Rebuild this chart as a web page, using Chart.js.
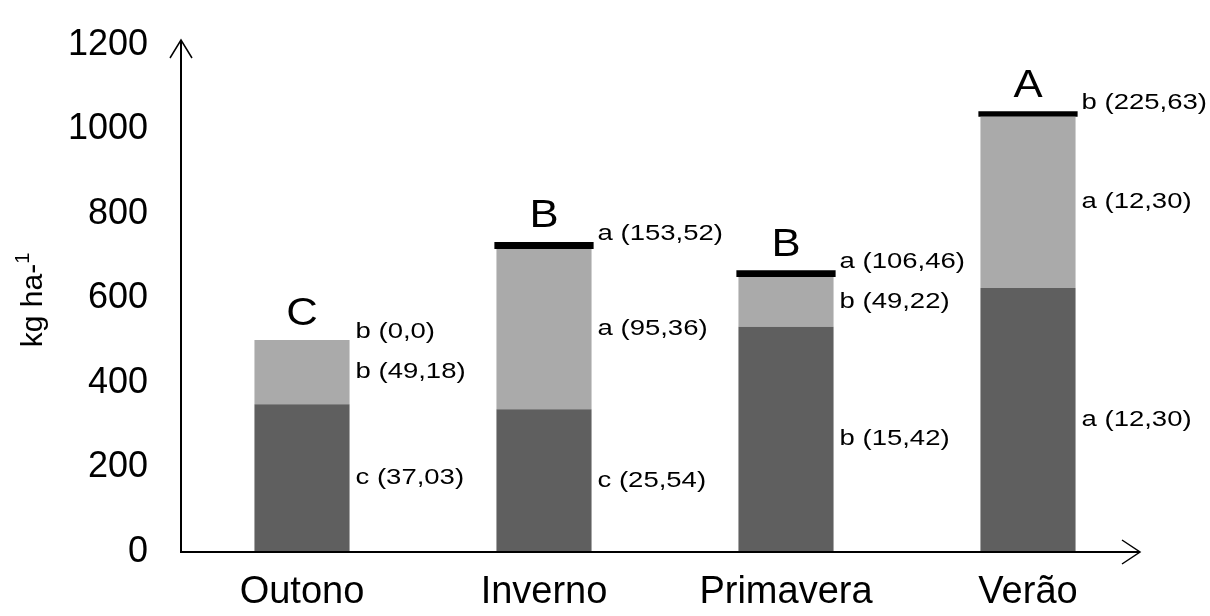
<!DOCTYPE html>
<html>
<head>
<meta charset="utf-8">
<script src="https://cdn.jsdelivr.net/npm/chart.js@4.4.1/dist/chart.umd.min.js"></script>
<style>
  html, body { margin: 0; padding: 0; background: #fff; }
  #wrap { width: 1210px; height: 616px; }
</style>
</head>
<body>
<div id="wrap"><canvas id="chart"></canvas></div>
<script>
// ---- DATA ----
const categories = ["Outono", "Inverno", "Primavera", "Verão"];
const darkValues = [350, 338, 533, 625];     // bottom segment
const lightValues = [152, 379, 118, 405];    // middle segment
const blackValues = [0, 17, 16, 13];         // thin top segment
const groupLetters = ["C", "B", "B", "A"];
const topLabels = ["b (0,0)", "a (153,52)", "a (106,46)", "b (225,63)"];
const midLabels = ["b (49,18)", "a (95,36)", "b (49,22)", "a (12,30)"];
const lowLabels = ["c (37,03)", "c (25,54)", "b (15,42)", "a (12,30)"];
const yTicks = [0, 200, 400, 600, 800, 1000, 1200];

const FONT = '"Liberation Sans", Arial, sans-serif';

// draw text a bit wider, like the original picture
function wideText(ctx, txt, x, y, font, sx, align) {
  ctx.save();
  ctx.font = font;
  ctx.textAlign = align || "left";
  ctx.textBaseline = "middle";
  ctx.translate(x, y);
  ctx.scale(sx, 1);
  ctx.fillText(txt, 0, 0);
  ctx.restore();
}

const decorations = {
  id: "decorations",
  afterDatasetsDraw(chart) {
    const ctx = chart.ctx;
    const xs = chart.scales.x, ys = chart.scales.y;
    const x0 = xs.left, y0 = ys.getPixelForValue(0);
    const yTop = ys.getPixelForValue(1200) - 5;
    const xEnd = xs.right - 9;

    ctx.save();
    ctx.strokeStyle = "#000";
    ctx.lineWidth = 2;
    // axes
    ctx.beginPath();
    ctx.moveTo(x0, yTop);
    ctx.lineTo(x0, y0);
    ctx.lineTo(xEnd, y0);
    ctx.stroke();
    // arrow heads
    ctx.lineWidth = 1.5;
    ctx.beginPath();
    ctx.moveTo(x0 - 11, yTop + 18);
    ctx.lineTo(x0, yTop);
    ctx.lineTo(x0 + 11, yTop + 18);
    ctx.moveTo(xEnd - 18, y0 - 12);
    ctx.lineTo(xEnd, y0);
    ctx.lineTo(xEnd - 18, y0 + 12);
    ctx.stroke();

    // labels by the bars
    ctx.fillStyle = "#000";
    const dark = chart.getDatasetMeta(0).data;
    const light = chart.getDatasetMeta(1).data;
    const black = chart.getDatasetMeta(2).data;
    const small = "22px " + FONT;
    categories.forEach((c, i) => {
      const lx = dark[i].x + dark[i].width / 2 + 6;
      wideText(ctx, lowLabels[i], lx, (dark[i].y + dark[i].base) / 2, small, 1.25);
      wideText(ctx, midLabels[i], lx, (light[i].y + light[i].base) / 2, small, 1.25);
      wideText(ctx, topLabels[i], lx, black[i].y - 8, small, 1.25);
      wideText(ctx, groupLetters[i], dark[i].x, black[i].y - 25, "38px " + FONT, 1.15, "center");
    });

    // y axis title with superscript
    ctx.translate(42, 300);
    ctx.rotate(-Math.PI / 2);
    ctx.textBaseline = "alphabetic";
    ctx.textAlign = "left";
    ctx.font = "30px " + FONT;
    const main = "kg ha-";
    const wMain = ctx.measureText(main).width;
    ctx.font = "20px " + FONT;
    const wSup = ctx.measureText("1").width;
    const start = -(wMain + wSup) / 2;
    ctx.font = "30px " + FONT;
    ctx.fillText(main, start, 0);
    ctx.font = "20px " + FONT;
    ctx.fillText("1", start + wMain, -13);
    ctx.restore();
  }
};

const ctx = document.getElementById("chart").getContext("2d");
new Chart(ctx, {
  type: "bar",
  data: {
    labels: categories,
    datasets: [
      { data: darkValues, backgroundColor: "#5f5f5f", barPercentage: 0.393, categoryPercentage: 1 },
      { data: lightValues, backgroundColor: "#aaaaaa", barPercentage: 0.393, categoryPercentage: 1 },
      { data: blackValues, backgroundColor: "#000000", barPercentage: 0.41, categoryPercentage: 1 }
    ]
  },
  options: {
    responsive: true,
    maintainAspectRatio: false,
    animation: false,
    layout: { padding: { top: 45, right: 61, left: 0, bottom: 0 } },
    plugins: { legend: { display: false }, tooltip: { enabled: false } },
    scales: {
      x: {
        stacked: true,
        grid: { display: false },
        border: { display: false },
        ticks: { color: "#000", font: { family: FONT, size: 38 }, padding: 10 },
        afterFit: (s) => { s.height = 64; s.paddingTop = 0; s.paddingBottom = 0; s.paddingLeft = 0; s.paddingRight = 0; }
      },
      y: {
        stacked: true,
        min: 0,
        max: 1200,
        afterBuildTicks: (s) => { s.ticks = yTicks.map(v => ({ value: v })); },
        grid: { display: false, drawTicks: false },
        border: { display: false },
        ticks: { color: "#000", font: { family: FONT, size: 36 }, padding: 33, callback: (v) => String(v) },
        afterFit: (s) => { s.width = 181; s.paddingTop = 0; s.paddingBottom = 0; }
      }
    }
  },
  plugins: [decorations]
});
</script>
</body>
</html>
